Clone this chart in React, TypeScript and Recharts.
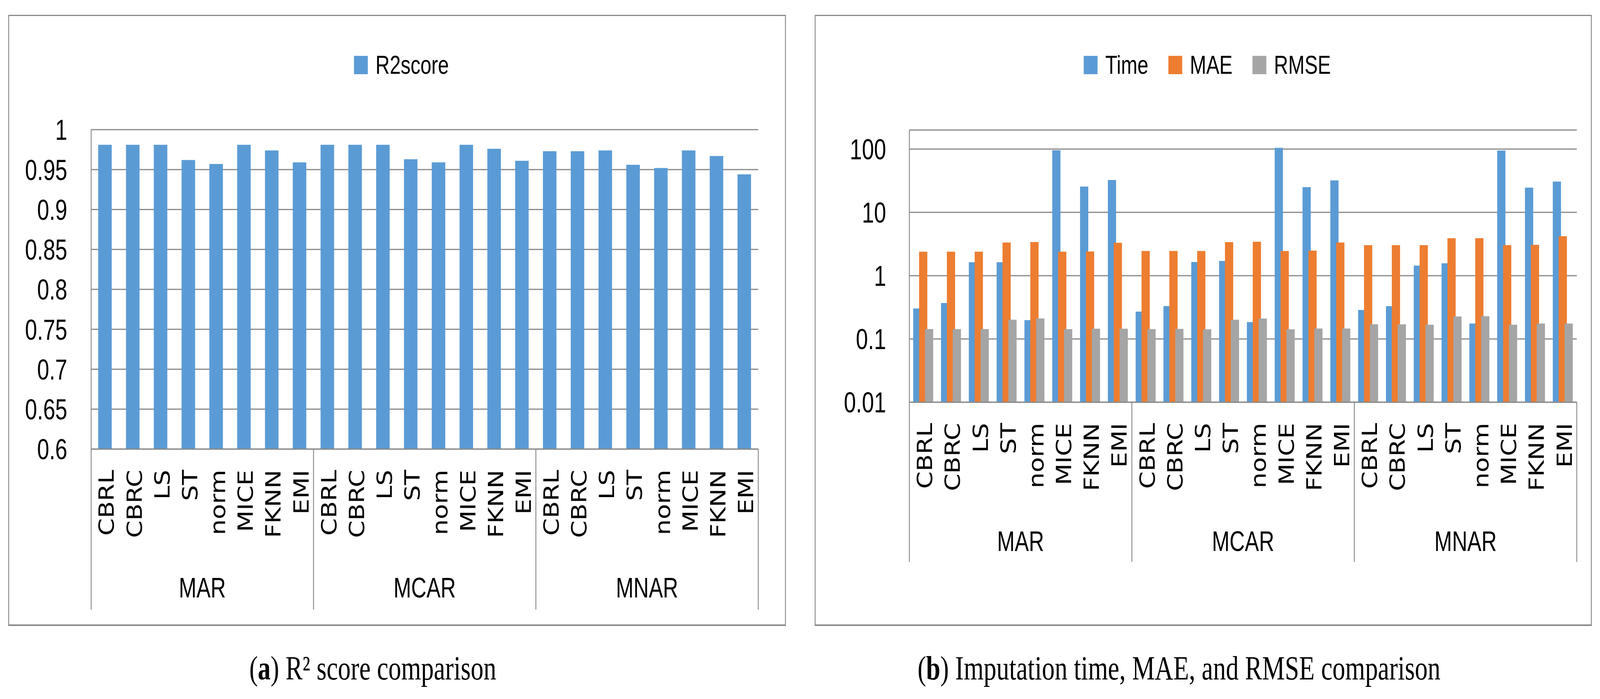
import { BarChart, Bar, XAxis, YAxis, CartesianGrid, Legend } from "recharts";

const methods = ["CBRL", "CBRC", "LS", "ST", "norm", "MICE", "FKNN", "EMI"];
const mechanisms = ["MAR", "MCAR", "MNAR"];

// R2 score, one value per (mechanism, method)
const r2Score = [
  0.981, 0.981, 0.981, 0.962, 0.957, 0.981, 0.974, 0.959,
  0.981, 0.981, 0.981, 0.963, 0.959, 0.981, 0.976, 0.961,
  0.973, 0.973, 0.974, 0.956, 0.952, 0.974, 0.967, 0.944,
];
// imputation time (log axis)
const timeSec = [
  0.303, 0.369, 1.63, 1.63, 0.198, 96, 25.6, 32.4,
  0.27, 0.331, 1.64, 1.71, 0.185, 104.6, 25.0, 32.0,
  0.287, 0.33, 1.44, 1.57, 0.175, 94.8, 24.6, 30.6,
];
const maeValues = [
  2.39, 2.39, 2.39, 3.34, 3.4, 2.39, 2.41, 3.3,
  2.45, 2.45, 2.45, 3.39, 3.44, 2.45, 2.49, 3.34,
  3.03, 3.03, 3.03, 3.9, 3.9, 3.03, 3.07, 4.19,
];
const rmseValues = [
  0.143, 0.143, 0.143, 0.201, 0.211, 0.143, 0.145, 0.145,
  0.143, 0.144, 0.142, 0.201, 0.21, 0.142, 0.146, 0.146,
  0.17, 0.17, 0.168, 0.226, 0.229, 0.168, 0.175, 0.175,
];

const r2Ticks = [0.6, 0.65, 0.7, 0.75, 0.8, 0.85, 0.9, 0.95, 1];
const logTicks = [0.01, 0.1, 1, 10, 100];
const seriesOrder = ["time", "mae", "rmse"];

const rows = mechanisms.flatMap((group, g) =>
  methods.map((method, m) => {
    const i = g * methods.length + m;
    return {
      method,
      group,
      r2: r2Score[i],
      time: timeSec[i],
      mae: maeValues[i],
      rmse: rmseValues[i],
    };
  })
);

const PAGE_W = 5442;
const PAGE_H = 1790;
const GRID = "#898989";
const SANS = '"Liberation Sans", Arial, sans-serif';
const WIDE = '"DejaVu Sans", Verdana, sans-serif';
const SERIF = '"Liberation Serif", "Times New Roman", serif';

function CategoryTick(props: any) {
  const { x, y, payload, band, sepHeight, groupBaseline } = props;
  const i = props.index ?? payload.index;
  const per = methods.length;
  return (
    <g>
      <text
        transform={`translate(${x},${y + 53}) rotate(-90) scale(1,1.11)`}
        x={0}
        y={27}
        textAnchor="end"
        fontFamily={WIDE}
        fontSize={64}
        fill="#000"
      >
        {payload.value}
      </text>
      {i % per === 0 && (
        <line x1={x - band / 2} x2={x - band / 2} y1={y} y2={y + sepHeight} stroke={GRID} strokeWidth={3} />
      )}
      {i === rows.length - 1 && (
        <line x1={x + band / 2} x2={x + band / 2} y1={y} y2={y + sepHeight} stroke={GRID} strokeWidth={3} />
      )}
      {i % per === per / 2 - 1 && (
        <text x={x + band / 2} y={y + groupBaseline} textAnchor="middle" fontFamily={SANS} fontSize={72} fill="#000">
          {rows[i].group}
        </text>
      )}
    </g>
  );
}

function LegendContent(props: any) {
  const items = [...(props.payload || [])].sort(
    (a: any, b: any) => seriesOrder.indexOf(a.dataKey) - seriesOrder.indexOf(b.dataKey)
  );
  return (
    <div style={{ display: "flex", justifyContent: "center", alignItems: "center", gap: 68, height: 48 }}>
      {items.map((it: any) => (
        <div key={it.value} style={{ display: "flex", alignItems: "center" }}>
          <span style={{ width: 47, height: 47, background: it.color, marginRight: 26, display: "inline-block" }} />
          <span style={{ fontFamily: SANS, fontSize: 67, lineHeight: "48px", color: "#000" }}>{it.value}</span>
        </div>
      ))}
    </div>
  );
}

function R2Chart() {
  const width = 2639;
  const plotLeft = 279;
  const plotRight = width - 91;
  const band = (plotRight - plotLeft) / rows.length;
  return (
    <BarChart width={width} height={1557} data={rows} margin={{ top: 291, right: 91, bottom: 37, left: 0 }} barSize={46}>
      <CartesianGrid vertical={false} stroke={GRID} strokeWidth={3} />
      <XAxis
        dataKey="method"
        interval={0}
        height={411}
        tickLine={false}
        tickSize={0}
        tickMargin={0}
        axisLine={{ stroke: GRID, strokeWidth: 3 }}
        tick={(p: any) => <CategoryTick {...p} band={band} sepHeight={411} groupBaseline={380} />}
      />
      <YAxis
        width={plotLeft}
        domain={[0.6, 1]}
        ticks={r2Ticks}
        allowDataOverflow
        tickLine={false}
        tickSize={0}
        tickMargin={81}
        axisLine={{ stroke: GRID, strokeWidth: 3 }}
        tick={{ fill: "#000", fontSize: 74, fontFamily: SANS }}
      />
      <Legend
        verticalAlign="middle"
        align="center"
        layout="horizontal"
        wrapperStyle={{ top: 101, left: 15, width: width }}
        content={LegendContent}
      />
      <Bar dataKey="r2" name="R2score" fill="#5B9BD5" isAnimationActive={false} />
    </BarChart>
  );
}

function ErrorChart() {
  const width = 2637;
  const plotLeft = 319;
  const plotRight = width - 48;
  const band = (plotRight - plotLeft) / rows.length;
  return (
    <BarChart
      width={width}
      height={1557}
      data={rows}
      margin={{ top: 292, right: 48, bottom: 159, left: 0 }}
      barSize={28}
      barGap={-8}
    >
      <CartesianGrid vertical={false} stroke={GRID} strokeWidth={3} />
      <XAxis
        dataKey="method"
        interval={0}
        height={409}
        tickLine={false}
        tickSize={0}
        tickMargin={0}
        axisLine={{ stroke: GRID, strokeWidth: 3 }}
        tick={(p: any) => <CategoryTick {...p} band={band} sepHeight={409} groupBaseline={381} />}
      />
      <YAxis
        width={plotLeft}
        scale="log"
        domain={[0.01, 200]}
        ticks={logTicks}
        allowDataOverflow
        tickLine={false}
        tickSize={0}
        tickMargin={79}
        axisLine={{ stroke: GRID, strokeWidth: 3 }}
        tick={{ fill: "#000", fontSize: 74, fontFamily: SANS }}
      />
      <Legend
        verticalAlign="middle"
        align="center"
        layout="horizontal"
        wrapperStyle={{ top: 101, left: 14, width: width }}
        itemSorter={(item: any) => seriesOrder.indexOf(item.dataKey)}
        content={LegendContent}
      />
      <Bar dataKey="time" name="Time" fill="#5B9BD5" isAnimationActive={false} />
      <Bar dataKey="mae" name="MAE" fill="#ED7D31" isAnimationActive={false} />
      <Bar dataKey="rmse" name="RMSE" fill="#A5A5A5" isAnimationActive={false} />
    </BarChart>
  );
}

const panelStyle = (left: number, width: number): any => ({
  position: "absolute",
  left,
  top: 38,
  width,
  height: 1565,
  boxSizing: "border-box",
  border: `3px solid ${GRID}`,
  borderBottomWidth: 4,
  background: "#fff",
});

export default function App() {
  // the browser window may be narrower than the figure; fit the whole figure into it
  const vw = typeof window !== "undefined" ? window.innerWidth : PAGE_W;
  const vh = typeof window !== "undefined" ? window.innerHeight : PAGE_H;
  const sx = Math.min(1, vw / PAGE_W);
  const sy = Math.min(1, vh / PAGE_H);
  return (
    <div
      style={{
        position: "fixed",
        left: 0,
        top: 0,
        width: PAGE_W,
        height: PAGE_H,
        background: "#fff",
        overflow: "hidden",
        transform: `scale(${sx}, ${sy})`,
        transformOrigin: "0 0",
      }}
    >
      <div style={panelStyle(28, 2645)}>
        <R2Chart />
      </div>
      <div style={panelStyle(2771, 2643)}>
        <ErrorChart />
      </div>
      <svg width={PAGE_W} height={190} style={{ position: "absolute", left: 0, top: 1600 }}>
        <text x={1268} y={140} textAnchor="middle" fontFamily={SERIF} fontSize={87} fill="#000">
          (<tspan fontWeight="bold">a</tspan>) R² score comparison
        </text>
        <text x={4010} y={140} textAnchor="middle" fontFamily={SERIF} fontSize={87} fill="#000">
          (<tspan fontWeight="bold">b</tspan>) Imputation time, MAE, and RMSE comparison
        </text>
      </svg>
    </div>
  );
}
